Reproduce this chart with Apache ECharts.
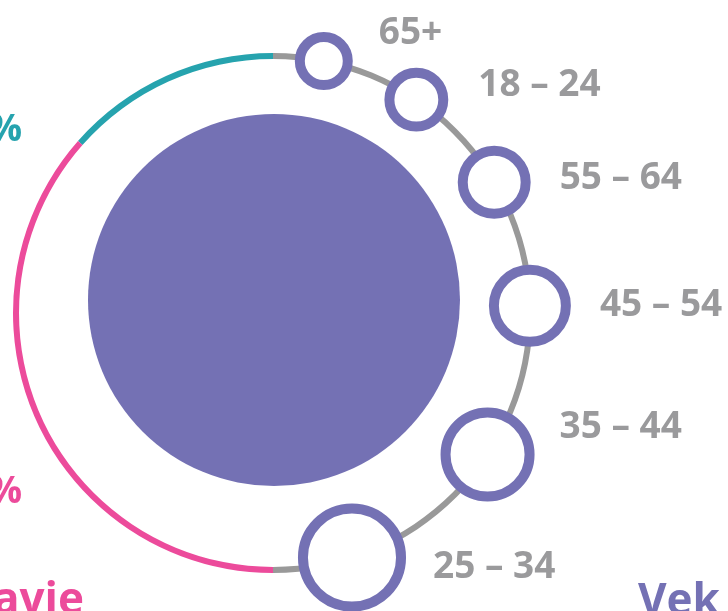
<!DOCTYPE html>
<html>
<head>
<meta charset="utf-8">
<script src="https://cdn.jsdelivr.net/npm/echarts@6/dist/echarts.min.js"></script>
<style>
  html, body { margin: 0; padding: 0; background: #fff; }
  #chart { width: 728px; height: 611px; }
</style>
</head>
<body>
<div id="chart"></div>
<script>
// pohlavie (muži / ženy) - podiel v %
var genderNames = ["Muži", "Ženy"];
var genderShares = [27, 73];

// vekové skupiny v poradí po oblúku, podiel v % a poloha na oblúku (stupne od vrchu)
var ageGroups = ["65+", "18 – 24", "55 – 64", "45 – 54", "35 – 44", "25 – 34"];
var ageShares = [8.4, 10.2, 13.3, 16.8, 22.1, 29.2];
var ageAngles = [11.4, 33.9, 59.4, 88.4, 123.4, 162.1];

var purple = "#7471b4";
var teal = "#26a3ae";
var pink = "#ec4b9b";
var grey = "#9a9a9c";
var font = "'Open Sans', 'Noto Sans', sans-serif";
var ring = 10;

// posun popiskov (len rozloženie)
var labelOffset = [[26, -28], [30, -14], [29, -4], [29, 0], [25, -27], [27, 10]];

function sizeOf(v) {
  return 20 * Math.sqrt(v) - ring;
}

var ageData = ageGroups.map(function (g, i) {
  return {
    name: g,
    value: [1, ageAngles[i], ageShares[i]],
    label: { offset: labelOffset[i] }
  };
});

var myChart = echarts.init(document.getElementById("chart"));
myChart.setOption({
  backgroundColor: "#fff",
  animation: false,
  polar: { center: [273, 313], radius: 257 },
  radiusAxis: { min: 0, max: 1, show: false },
  angleAxis: { min: 0, max: 360, startAngle: 90, clockwise: true, show: false },
  graphic: [
    {
      type: "text", x: 22, y: 130,
      style: { text: genderShares[0] + "%", fill: teal, font: "bold 37px " + font, textAlign: "right", align: "right", textVerticalAlign: "middle", verticalAlign: "middle" }
    },
    {
      type: "text", x: 22, y: 492,
      style: { text: genderShares[1] + "%", fill: pink, font: "bold 37px " + font, textAlign: "right", align: "right", textVerticalAlign: "middle", verticalAlign: "middle" }
    },
    {
      type: "text", x: 84, y: 601,
      style: { text: "Pohlavie", fill: pink, font: "bold 44px " + font, textAlign: "right", align: "right", textVerticalAlign: "middle", verticalAlign: "middle" }
    },
    {
      type: "text", x: 638, y: 602,
      style: { text: "Vek", fill: purple, font: "bold 44px " + font, textAlign: "left", align: "left", textVerticalAlign: "middle", verticalAlign: "middle" }
    }
  ],
  series: [
    {
      // veľký kruh
      type: "pie",
      silent: true,
      center: [274, 300],
      radius: [0, 186],
      label: { show: false },
      labelLine: { show: false },
      itemStyle: { color: purple, borderWidth: 0 },
      data: [{ name: "spolu", value: 100 }]
    },
    {
      // obvodový prstenec: muži, ženy, sivá polovica pre vek
      type: "pie",
      silent: true,
      center: [273, 313],
      radius: [254, 260],
      startAngle: 90,
      clockwise: false,
      label: { show: false },
      labelLine: { show: false },
      itemStyle: { borderWidth: 0 },
      data: [
        { name: genderNames[0], value: genderShares[0], itemStyle: { color: teal } },
        { name: genderNames[1], value: genderShares[1], itemStyle: { color: pink } },
        { name: "vek", value: 100, itemStyle: { color: "#999999" } }
      ]
    },
    {
      type: "scatter",
      coordinateSystem: "polar",
      silent: true,
      z: 5,
      symbol: "circle",
      symbolSize: function (val) { return sizeOf(val[2]); },
      itemStyle: { color: "#fff", borderColor: purple, borderWidth: ring, opacity: 1 },
      label: {
        show: true,
        position: "right",
        distance: 0,
        formatter: "{b}",
        color: grey,
        fontFamily: font,
        fontWeight: "bold",
        fontSize: 37
      },
      data: ageData
    }
  ]
});
</script>
</body>
</html>
